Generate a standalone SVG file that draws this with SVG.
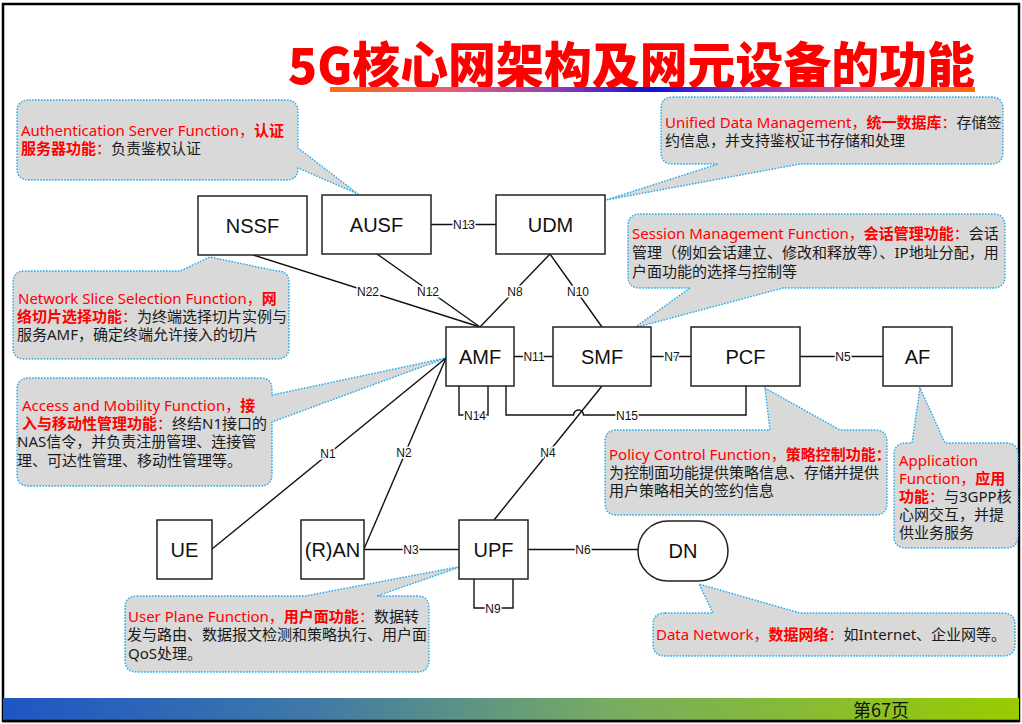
<svg xmlns="http://www.w3.org/2000/svg" width="1022" height="724" viewBox="0 0 1022 724">
<defs>
<linearGradient id="ul" x1="0" y1="0" x2="1" y2="0">
<stop offset="0" stop-color="#ff6a10"/>
<stop offset="0.2" stop-color="#e05a80"/>
<stop offset="0.35" stop-color="#9040b0"/>
<stop offset="0.5" stop-color="#1010cc"/>
<stop offset="0.65" stop-color="#8040c0"/>
<stop offset="0.82" stop-color="#e05a80"/>
<stop offset="1" stop-color="#ff6a10"/>
</linearGradient>
<linearGradient id="ft" x1="0" y1="0" x2="1" y2="0">
<stop offset="0" stop-color="#1f55c4"/>
<stop offset="0.3" stop-color="#3f78a8"/>
<stop offset="0.6" stop-color="#78ac62"/>
<stop offset="1" stop-color="#99cc00"/>
</linearGradient>
<style>
.co{fill:#d9d9d9;stroke:#22aaee;stroke-width:1.4;stroke-dasharray:1.6 1.4}
.nd{fill:#fff;stroke:#222;stroke-width:1.5}
.nl{font-family:"Liberation Sans",Arial,sans-serif;font-size:20px;fill:#111;text-anchor:middle}
.cn line,.cn path{stroke:#111;stroke-width:1.4;fill:none}
.el{font-family:"Liberation Sans",Arial,sans-serif;font-size:12px;fill:#111;text-anchor:middle;stroke:#fff;stroke-width:3;paint-order:stroke}
.ct{font-family:"Noto Sans","Noto Sans CJK SC",sans-serif;font-size:15px;fill:#1a1a1a}
.r{fill:#ff0000}
.rb{fill:#ff0000;font-weight:bold}
.k{fill:#1a1a1a}
</style>
</defs>
<rect x="0" y="0" width="1022" height="724" fill="#fff"/>
<rect x="3" y="4" width="1016" height="717" fill="none" stroke="#000" stroke-width="2.5"/>

<!-- title -->
<text x="288" y="84" textLength="687" lengthAdjust="spacingAndGlyphs" font-family="'Noto Sans CJK SC',sans-serif" font-size="50" font-weight="900" fill="#ff0000">5G核心网架构及网元设备的功能</text>
<rect x="330" y="87" width="645" height="5" fill="url(#ul)"/>

<!-- callouts -->
<g id="callout-ausf">
<path class="co" d="M29,100 H286 Q298,100 298,112 V148 L358,194 L298,168 Q298,180 286,180 H29 Q17,180 17,168 V112 Q17,100 29,100 Z"/>
<text class="ct" x="21" y="136"><tspan class="r">Authentication Server Function，</tspan><tspan class="rb">认证</tspan></text>
<text class="ct" x="21" y="154"><tspan class="rb">服务器功能</tspan><tspan class="r">：</tspan><tspan class="k">负责鉴权认证</tspan></text>
</g>
<g id="callout-udm">
<path class="co" d="M673,97 H991 Q1003,97 1003,109 V152 Q1003,164 991,164 H800 L606,200 L718,164 H673 Q661,164 661,152 V109 Q661,97 673,97 Z"/>
<text class="ct" x="665" y="128"><tspan class="r">Unified Data Management，</tspan><tspan class="rb">统一数据库</tspan><tspan class="r">：</tspan><tspan class="k">存储签</tspan></text>
<text class="ct" x="665" y="146">约信息，并支持鉴权证书存储和处理</text>
</g>
<g id="callout-smf">
<path class="co" d="M640,214 H993 Q1005,214 1005,226 V276 Q1005,288 993,288 H783 L634,328 L690,288 H640 Q628,288 628,276 V226 Q628,214 640,214 Z"/>
<text class="ct" x="632" y="239"><tspan class="r">Session Management Function，</tspan><tspan class="rb">会话管理功能</tspan><tspan class="r">：</tspan><tspan class="k">会话</tspan></text>
<text class="ct" x="632" y="258">管理（例如会话建立、修改和释放等）、IP地址分配，用</text>
<text class="ct" x="632" y="277">户面功能的选择与控制等</text>
</g>
<g id="callout-nssf">
<path class="co" d="M25,271 H180 L210,257 L277,271 Q289,271 289,283 V347 Q289,359 277,359 H25 Q13,359 13,347 V283 Q13,271 25,271 Z"/>
<text class="ct" x="18" y="304"><tspan class="r">Network Slice Selection Function，</tspan><tspan class="rb">网</tspan></text>
<text class="ct" x="17" y="322"><tspan class="rb">络切片选择功能</tspan><tspan class="r">：</tspan><tspan class="k">为终端选择切片实例与</tspan></text>
<text class="ct" x="17" y="340">服务AMF，确定终端允许接入的切片</text>
</g>
<g id="callout-amf">
<path class="co" d="M29,378 H260 Q272,378 272,390 V395 L446,358 L272,422 V474 Q272,486 260,486 H29 Q17,486 17,474 V390 Q17,378 29,378 Z"/>
<text class="ct" x="22" y="411"><tspan class="r">Access and Mobility Function，</tspan><tspan class="rb">接</tspan></text>
<text class="ct" x="22" y="429"><tspan class="rb">入与移动性管理功能</tspan><tspan class="r">：</tspan><tspan class="k">终结N1接口的</tspan></text>
<text class="ct" x="17" y="447">NAS信令，并负责注册管理、连接管</text>
<text class="ct" x="17" y="466">理、可达性管理、移动性管理等。</text>
</g>
<g id="callout-pcf">
<path class="co" d="M617,430 H770 L765,388 L840,430 H875 Q887,430 887,442 V503 Q887,515 875,515 H617 Q605,515 605,503 V442 Q605,430 617,430 Z"/>
<text class="ct" x="609" y="460"><tspan class="r">Policy Control Function，</tspan><tspan class="rb">策略控制功能：</tspan></text>
<text class="ct" x="609" y="478">为控制面功能提供策略信息、存储并提供</text>
<text class="ct" x="609" y="496">用户策略相关的签约信息</text>
</g>
<g id="callout-af">
<path class="co" d="M906,443 H912 L920,388 L945,443 H1006 Q1018,443 1018,455 V536 Q1018,548 1006,548 H906 Q894,548 894,536 V455 Q894,443 906,443 Z"/>
<text class="ct" x="899" y="466"><tspan class="r">Application</tspan></text>
<text class="ct" x="899" y="484"><tspan class="r">Function，</tspan><tspan class="rb">应用</tspan></text>
<text class="ct" x="899" y="502"><tspan class="rb">功能</tspan><tspan class="r">：</tspan><tspan class="k">与3GPP核</tspan></text>
<text class="ct" x="899" y="520">心网交互，并提</text>
<text class="ct" x="899" y="538">供业务服务</text>
</g>
<g id="callout-upf">
<path class="co" d="M137,596 H305 L463,566 L377,596 H417 Q429,596 429,608 V660 Q429,672 417,672 H137 Q125,672 125,660 V608 Q125,596 137,596 Z"/>
<text class="ct" x="128" y="622"><tspan class="r">User Plane Function，</tspan><tspan class="rb">用户面功能</tspan><tspan class="r">：</tspan><tspan class="k">数据转</tspan></text>
<text class="ct" x="127" y="640">发与路由、数据报文检测和策略执行、用户面</text>
<text class="ct" x="128" y="659">QoS处理。</text>
</g>
<g id="callout-dn">
<path class="co" d="M665,613 H713 L699,584 L800,613 H1003 Q1015,613 1015,625 V644 Q1015,656 1003,656 H665 Q653,656 653,644 V625 Q653,613 665,613 Z"/>
<text class="ct" x="656" y="640"><tspan class="r">Data Network，</tspan><tspan class="rb">数据网络</tspan><tspan class="r">：</tspan><tspan class="k">如Internet、企业网等。</tspan></text>
</g>

<!-- connectors -->
<g id="connectors" class="cn">
<line x1="253" y1="255" x2="480" y2="327"/>
<line x1="377" y1="254" x2="480" y2="327"/>
<line x1="550" y1="254" x2="480" y2="327"/>
<line x1="550" y1="254" x2="602" y2="327"/>
<line x1="431" y1="224.5" x2="496" y2="224.5"/>
<line x1="514" y1="356.5" x2="553" y2="356.5"/>
<line x1="651" y1="356.5" x2="691" y2="356.5"/>
<line x1="800" y1="356.5" x2="883" y2="356.5"/>
<path d="M459,386 V415 H488 V386"/>
<path d="M506,386 V415 H573.5 A5,5 0 0 1 583.5,415 H746 V386"/>
<line x1="602" y1="386" x2="494" y2="520"/>
<line x1="212" y1="549" x2="446" y2="358"/>
<line x1="364" y1="549" x2="446" y2="358"/>
<line x1="364" y1="549.5" x2="459" y2="549.5"/>
<line x1="528" y1="549.5" x2="638" y2="549.5"/>
<path d="M474,579 V608 H513 V579"/>
<text class="el" x="464" y="229">N13</text>
<text class="el" x="368" y="296">N22</text>
<text class="el" x="428" y="296">N12</text>
<text class="el" x="515" y="296">N8</text>
<text class="el" x="578" y="296">N10</text>
<text class="el" x="534" y="361">N11</text>
<text class="el" x="672" y="361">N7</text>
<text class="el" x="843" y="361">N5</text>
<text class="el" x="475" y="420">N14</text>
<text class="el" x="627" y="420">N15</text>
<text class="el" x="548" y="457">N4</text>
<text class="el" x="328" y="458">N1</text>
<text class="el" x="404" y="457">N2</text>
<text class="el" x="411" y="554">N3</text>
<text class="el" x="583" y="554">N6</text>
<text class="el" x="493" y="613">N9</text>
</g>

<!-- nodes -->
<g id="nssf"><rect class="nd" x="198" y="196" width="109" height="59"/><text class="nl" x="252.5" y="233">NSSF</text></g>
<g id="ausf"><rect class="nd" x="322" y="195" width="109" height="59"/><text class="nl" x="376.5" y="232">AUSF</text></g>
<g id="udm"><rect class="nd" x="496" y="195" width="109" height="59"/><text class="nl" x="550.5" y="232">UDM</text></g>
<g id="amf"><rect class="nd" x="446" y="327" width="68" height="59"/><text class="nl" x="480" y="364">AMF</text></g>
<g id="smf"><rect class="nd" x="553" y="327" width="98" height="59"/><text class="nl" x="602" y="364">SMF</text></g>
<g id="pcf"><rect class="nd" x="691" y="327" width="109" height="59"/><text class="nl" x="745.5" y="364">PCF</text></g>
<g id="af"><rect class="nd" x="883" y="327" width="69" height="59"/><text class="nl" x="917.5" y="364">AF</text></g>
<g id="ue"><rect class="nd" x="157" y="520" width="55" height="59"/><text class="nl" x="184.5" y="557">UE</text></g>
<g id="ran"><rect class="nd" x="301" y="520" width="63" height="59"/><text class="nl" x="332.5" y="557">(R)AN</text></g>
<g id="upf"><rect class="nd" x="459" y="520" width="69" height="59"/><text class="nl" x="493.5" y="557">UPF</text></g>
<g id="dn"><rect class="nd" x="638" y="521" width="90" height="60" rx="30" ry="30"/><text class="nl" x="683" y="558">DN</text></g>

<!-- footer -->
<rect x="3" y="698" width="1016" height="22" fill="url(#ft)"/>
<line x1="3" y1="721" x2="1019" y2="721" stroke="#000" stroke-width="2.5"/>
<text x="853" y="717" font-family="'Noto Sans CJK SC',sans-serif" font-size="18" fill="#111">第67页</text>
</svg>
